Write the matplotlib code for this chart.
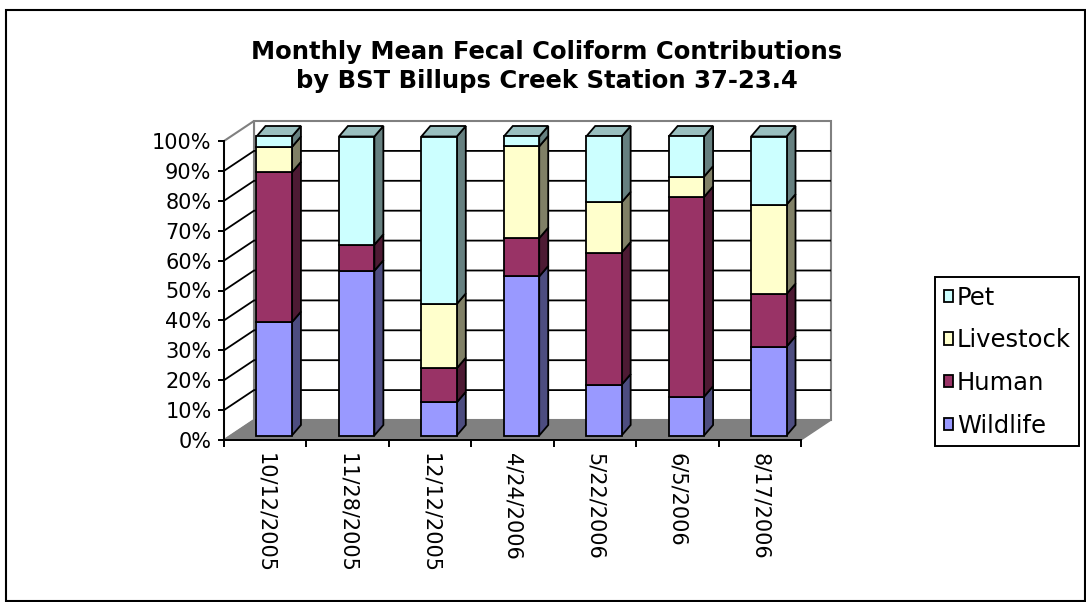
import numpy as np
import matplotlib
matplotlib.use('Agg')
import matplotlib.pyplot as plt
import matplotlib.transforms as mtransforms
from matplotlib.patches import Polygon, Rectangle

plt.rcParams['font.family'] = ['DejaVu Sans']

# 資料 (percent of each sample)
dates = ['10/12/2005', '11/28/2005', '12/12/2005', '4/24/2006',
         '5/22/2006', '6/5/2006', '8/17/2006']
wildlife = [37.9, 55.1, 11.1, 53.2, 17.0, 13.0, 29.7]
human = [50.1, 8.7, 11.4, 12.8, 44.2, 66.8, 17.6]
livestock = [8.5, 0.0, 21.5, 30.7, 16.8, 6.8, 29.9]
pet = [3.5, 36.2, 56.0, 3.3, 22.0, 13.4, 22.8]

series = [('Wildlife', wildlife, '#9999ff'),
          ('Human', human, '#993366'),
          ('Livestock', livestock, '#ffffcc'),
          ('Pet', pet, '#ccffff')]

W, H = 1086, 602
fig = plt.figure(figsize=(W / 100, H / 100), dpi=100)

# axes = front plane of the 3D box
left, right, top, bottom = 224, 801, 141, 440
ax = fig.add_axes([left / W, (H - bottom) / H, (right - left) / W, (bottom - top) / H])
ax.set_xlim(-0.5, 6.5)
ax.set_ylim(0, 100)
ax.patch.set_visible(False)

px_x = (right - left) / 7
px_y = (bottom - top) / 100
WX, WY = 30 / px_x, 20 / px_y      # wall depth
BX, BY = 9 / px_x, 10.5 / px_y     # bar depth


def shade(c, f):
    r, g, b = matplotlib.colors.to_rgb(c)
    return (r * f, g * f, b * f)


# walls + floor
x0, x1 = -0.5, 6.5
floor = Polygon([(x0, 0), (x1, 0), (x1 + WX, WY), (x0 + WX, WY)],
                closed=True, fc='#808080', ec='#808080', lw=1, zorder=0.5, clip_on=False)
ax.add_patch(floor)
back = Rectangle((x0 + WX, WY), x1 - x0, 100, fc='white', ec='#808080', lw=1.5,
                 zorder=0.4, clip_on=False)
ax.add_patch(back)
side = Polygon([(x0, 0), (x0, 100), (x0 + WX, 100 + WY), (x0 + WX, WY)],
               closed=True, fc='white', ec='#808080', lw=1.5, zorder=0.4, clip_on=False)
ax.add_patch(side)
for v in range(10, 100, 10):
    ax.plot([x0, x0 + WX, x1 + WX], [v, v + WY, v + WY], color='black', lw=1.3,
            zorder=0.8, clip_on=False, solid_capstyle='butt')

# bars (front face shifted into the box)
front = mtransforms.offset_copy(ax.transData, fig=fig, x=9, y=4.5, units='dots')
x = np.arange(len(dates))
width = 0.43
bottoms = np.zeros(len(dates))
handles = []
for name, vals, col in series:
    vals = np.array(vals)
    bars = ax.bar(x, vals, width, bottom=bottoms, color=col, edgecolor='black',
                  linewidth=1.3, zorder=3, transform=front, clip_on=False, label=name)
    handles.append(bars)
    for xi, b, v in zip(x, bottoms, vals):
        if v <= 0:
            continue
        xr = xi + width / 2
        ax.add_patch(Polygon([(xr, b), (xr + BX, b + BY), (xr + BX, b + v + BY), (xr, b + v)],
                             closed=True, fc=shade(col, 0.5), ec='black', lw=1.3,
                             zorder=2.9, transform=front, clip_on=False))
    bottoms = bottoms + vals

# top faces
top_col = series[-1][2]
for xi, t in zip(x, bottoms):
    xl, xr = xi - width / 2, xi + width / 2
    ax.add_patch(Polygon([(xl, t), (xl + BX, t + BY), (xr + BX, t + BY), (xr, t)],
                         closed=True, fc=shade(top_col, 0.75), ec='black', lw=1.3,
                         zorder=2.9, transform=front, clip_on=False))

# axes
for s in ['top', 'right']:
    ax.spines[s].set_visible(False)
for s in ['left', 'bottom']:
    ax.spines[s].set_linewidth(1.4)
    ax.spines[s].set_zorder(1)
ax.set_yticks(range(0, 101, 10))
ax.set_yticklabels([f'{v}%' for v in range(0, 101, 10)], fontsize=15)
ax.tick_params(axis='y', length=4, width=1.4, pad=5)
ax.set_xticks(np.arange(-0.5, 7, 1))
ax.set_xticklabels([])
ax.tick_params(axis='x', which='major', length=5, width=1.4)
ax.set_xticks(x, dates, minor=True, rotation=-90, fontsize=15)
ax.tick_params(axis='x', which='minor', length=0, pad=9.4)

# legend
leg = fig.legend(handles[::-1], [s[0] for s in series][::-1], loc='upper left',
                 bbox_to_anchor=(935 / W, 1 - 277 / H), borderaxespad=0,
                 fontsize=17.5, fancybox=False, framealpha=1, edgecolor='black',
                 handlelength=0.4, handleheight=0.4, handletextpad=0.15,
                 labelspacing=0.77, borderpad=0.35)
leg.get_frame().set_linewidth(1.4)
for p in leg.get_patches():
    p.set_linewidth(1.3)

fig.text(547 / W, 1 - 40 / H,
         'Monthly Mean Fecal Coliform Contributions\nby BST Billups Creek Station 37-23.4',
         ha='center', va='top', fontsize=17.5, fontweight='bold', linespacing=1.28)

fig.add_artist(Rectangle((6 / W, 1 / H), 1079 / W, 591 / H, transform=fig.transFigure,
                         fill=False, ec='black', lw=1.5))

fig.savefig('out.png', dpi=100)
